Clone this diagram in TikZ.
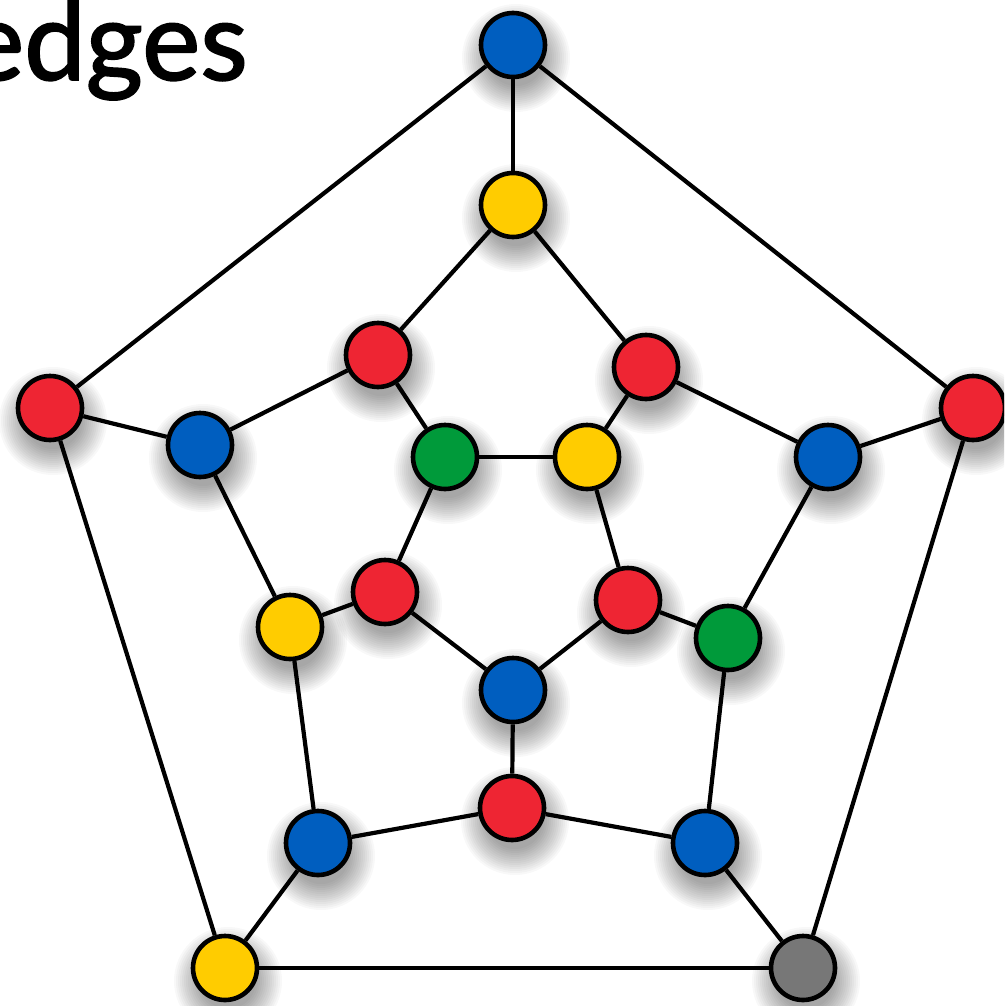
\documentclass[tikz,border=0pt]{standalone}
\usepackage{fontspec}
\setmainfont{Lato}[FakeBold=1.6]
\definecolor{vblue}{HTML}{005EBF}
\definecolor{vred}{HTML}{EE2533}
\definecolor{vyellow}{HTML}{FFCC00}
\definecolor{vgreen}{HTML}{009A3A}
\definecolor{vgray}{HTML}{777777}
\tikzset{
  vtx/.style={circle,draw=black,line width=4.6pt,minimum size=64pt,inner sep=0pt},
  edge/.style={line width=4.2pt,black},
  shadowpic/.pic={\foreach \r in {54,52,...,28}{\fill[black,opacity=0.028] (3,13) circle (\r);}}
}
\begin{document}
\begin{tikzpicture}[x=1pt,y=-1pt]
\clip (0,0) rectangle (1004,1006);
\fill[white] (0,0) rectangle (1004,1006);
\node[anchor=base east,inner sep=0pt,font=\fontsize{110}{116}\selectfont] (title) at (248,80) {edges};
\foreach \n/\x/\y/\c in {t/513/45/vblue,l/50/408/vred,r/973/408/vred,bl/225/968/vyellow,br/803/968/vgray,
  a/513/205/vyellow,b/200/445/vblue,c/828/457/vblue,d/318/843/vblue,e/705/843/vblue,
  m1/378/355/vred,m2/646/367/vred,m3/290/627/vyellow,m4/728/638/vgreen,m5/512/808/vred,
  i1/445/457/vgreen,i2/587/457/vyellow,i3/628/600/vred,i4/513/690/vblue,i5/385/592/vred}{
  \pic at (\x,\y) {shadowpic};
}
\foreach \n/\x/\y/\c in {t/513/45/vblue,l/50/408/vred,r/973/408/vred,bl/225/968/vyellow,br/803/968/vgray,
  a/513/205/vyellow,b/200/445/vblue,c/828/457/vblue,d/318/843/vblue,e/705/843/vblue,
  m1/378/355/vred,m2/646/367/vred,m3/290/627/vyellow,m4/728/638/vgreen,m5/512/808/vred,
  i1/445/457/vgreen,i2/587/457/vyellow,i3/628/600/vred,i4/513/690/vblue,i5/385/592/vred}{
  \node[vtx,fill=\c] (\n) at (\x,\y) {};
}
\foreach \u/\v in {t/a,t/l,t/r,l/b,l/bl,r/c,r/br,bl/br,bl/d,br/e,
  a/m1,a/m2,b/m1,b/m3,c/m2,c/m4,d/m3,d/m5,e/m4,e/m5,
  m1/i1,m2/i2,m3/i5,m4/i3,m5/i4,
  i1/i2,i2/i3,i3/i4,i4/i5,i5/i1}{
  \draw[edge] (\u) -- (\v);
}
\end{tikzpicture}
\end{document}
